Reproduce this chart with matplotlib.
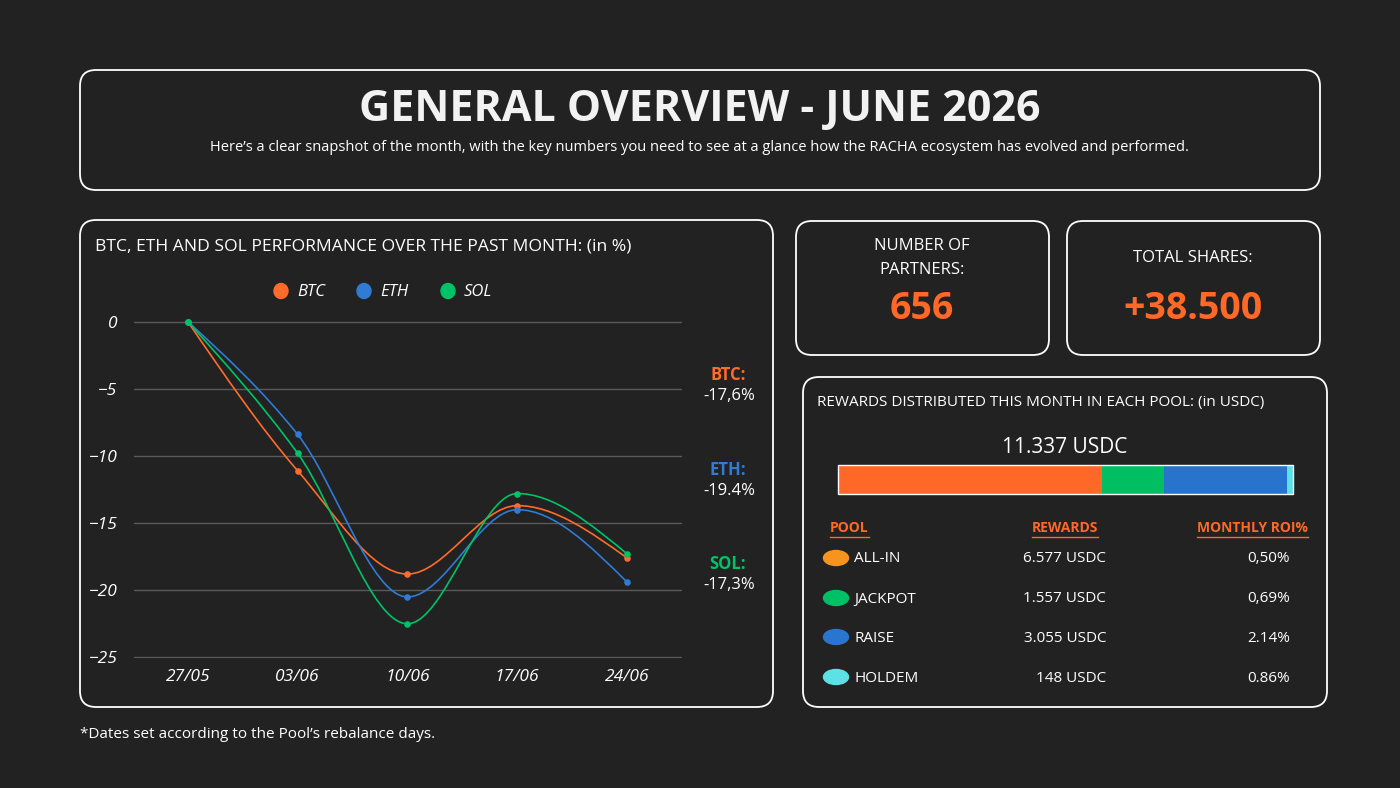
import numpy as np
import matplotlib.pyplot as plt
from matplotlib.patches import FancyBboxPatch, Ellipse, Rectangle, PathPatch
from matplotlib.path import Path

# ______ data ______
dates = ['27/05', '03/06', '10/06', '17/06', '24/06']
btc = [0, -11.1, -18.8, -13.7, -17.6]
eth = [0, -8.4, -20.5, -14.0, -19.4]
sol = [0, -9.8, -22.5, -12.8, -17.3]
y_ticks = [0, -5, -10, -15, -20, -25]

final_labels = ['-17,6%', '-19.4%', '-17,3%']

pools = ['ALL-IN', 'JACKPOT', 'RAISE', 'HOLDEM']
rewards = [6577, 1557, 3055, 148]
rewards_txt = ['6.577 USDC', '1.557 USDC', '3.055 USDC', '148 USDC']
roi_txt = ['0,50%', '0,69%', '2.14%', '0.86%']
total_txt = '11.337 USDC'
partners = '656'
shares = '+38.500'

# ______ style ______
BG = '#222222'
ORANGE = '#FF6826'
C_BTC = '#FF6B2B'
C_ETH = '#2F7BD6'
C_SOL = '#00C266'
dot_cols = ['#F7941D', '#00C065', '#2A75D0', '#5CE1E6']
bar_cols = ['#FF6826', '#00BF63', '#2874CC', '#5CE1E6']
plt.rcParams['font.family'] = ['Open Sans', 'DejaVu Sans']
W, H = 1400, 788

fig = plt.figure(figsize=(14, 7.88), dpi=100, facecolor=BG)
bg = fig.add_axes([0, 0, 1, 1])
bg.set_xlim(0, W)
bg.set_ylim(H, 0)
bg.axis('off')


def box(x0, y0, x1, y1):
    bg.add_patch(FancyBboxPatch((x0, y0), x1 - x0, y1 - y0,
                                boxstyle='round,pad=0,rounding_size=16',
                                fc=BG, ec='white', lw=1.3))


box(80, 70, 1320, 190)
box(80, 220, 773, 707)
box(796, 221, 1049, 355)
box(1067, 221, 1320, 355)
box(803, 377, 1327, 707)

# header
bg.text(700, 109, 'GENERAL OVERVIEW - JUNE 2026', color='#F2F2F2', fontsize=31,
        fontweight='bold', ha='center', va='center')
bg.text(700, 147, 'Here\u2019s a clear snapshot of the month, with the key numbers you need to see at a glance '
        'how the RACHA ecosystem has evolved and performed.', color='white', fontsize=10.5,
        ha='center', va='center')

# ______ line chart ______
bg.text(95, 246, 'BTC, ETH AND SOL PERFORMANCE OVER THE PAST MONTH: (in %)', color='white',
        fontsize=12.6, ha='left', va='center')

ax = fig.add_axes([134 / W, 1 - 658 / H, (682 - 134) / W, (658 - 321) / H])
ax.set_facecolor('none')
ax.set_xlim(-0.49, 4.5)
ax.set_ylim(-25.05, 0.05)
for s in ax.spines.values():
    s.set_visible(False)
ax.set_yticks(y_ticks)
ax.set_xticks(range(len(dates)))
ax.set_xticklabels(dates)
ax.tick_params(length=0, colors='white', labelsize=12.5)
for lab in ax.get_xticklabels() + ax.get_yticklabels():
    lab.set_fontstyle('italic')
ax.tick_params(axis='y', pad=12)
ax.tick_params(axis='x', pad=8)
ax.grid(axis='y', color='#5a5a5a', lw=1)
ax.set_axisbelow(True)


def monotone_path(xs, ys):
    xs = np.asarray(xs, float)
    ys = np.asarray(ys, float)
    n = len(xs)
    h = np.diff(xs)
    s = np.diff(ys) / h
    t = np.zeros(n)
    for i in range(1, n - 1):
        p = (s[i - 1] * h[i] + s[i] * h[i - 1]) / (h[i - 1] + h[i])
        t[i] = (np.sign(s[i - 1]) + np.sign(s[i])) * min(abs(s[i - 1]), abs(s[i]), 0.5 * abs(p))
    t[0] = (3 * s[0] - t[1]) / 2
    t[-1] = (3 * s[-1] - t[-2]) / 2
    verts = [(xs[0], ys[0])]
    codes = [Path.MOVETO]
    for i in range(n - 1):
        d = h[i] / 3
        verts += [(xs[i] + d, ys[i] + t[i] * d), (xs[i + 1] - d, ys[i + 1] - t[i + 1] * d),
                  (xs[i + 1], ys[i + 1])]
        codes += [Path.CURVE4] * 3
    return Path(verts, codes)


x = np.arange(len(dates))
for vals, col in [(btc, C_BTC), (eth, C_ETH), (sol, C_SOL)]:
    ax.add_patch(PathPatch(monotone_path(x, vals), fc='none', ec=col, lw=1.2, clip_on=False))
    ax.scatter(x, vals, s=14, color=col, zorder=3, clip_on=False)

# legend
for lx, name, col in [(281, 'BTC', C_BTC), (364, 'ETH', C_ETH), (448, 'SOL', C_SOL)]:
    bg.add_patch(Ellipse((lx, 291), 14, 15, color=col))
    bg.text(lx + 16, 292, name, color='white', fontsize=12, fontstyle='italic',
            ha='left', va='center')

# end labels
for yy, name, col, val in [(375, 'BTC:', C_BTC, final_labels[0]),
                           (470, 'ETH:', C_ETH, final_labels[1]),
                           (564, 'SOL:', C_SOL, final_labels[2])]:
    bg.text(728, yy, name, color=col, fontsize=12, fontweight='bold', ha='center', va='center')
    bg.text(729, yy + 21, val, color='white', fontsize=12, ha='center', va='center')

# ______ stat cards ______
bg.text(922, 246, 'NUMBER OF', color='white', fontsize=12, ha='center', va='center')
bg.text(922, 270, 'PARTNERS:', color='white', fontsize=12, ha='center', va='center')
bg.text(922, 309, partners, color=ORANGE, fontsize=27, fontweight='bold', ha='center', va='center')
bg.text(1193, 258, 'TOTAL SHARES:', color='white', fontsize=12, ha='center', va='center')
bg.text(1193, 309, shares, color=ORANGE, fontsize=27, fontweight='bold', ha='center', va='center')

# ______ rewards ______
bg.text(817, 402, 'REWARDS DISTRIBUTED THIS MONTH IN EACH POOL: (in USDC)', color='white',
        fontsize=11, ha='left', va='center')
bg.text(1065, 447, total_txt, color='white', fontsize=15, ha='center', va='center')

bar_x0, bar_x1 = 838, 1293
scale = (bar_x1 - bar_x0) / sum(rewards)
left = bar_x0
for val, col in zip(rewards, bar_cols):
    bg.add_patch(Rectangle((left, 465), val * scale, 29, fc=col, ec='none'))
    left += val * scale
bg.add_patch(Rectangle((bar_x0, 465), bar_x1 - bar_x0, 29, fc='none', ec='white', lw=1))

fig.canvas.draw()
renderer = fig.canvas.get_renderer()
inv = bg.transData.inverted()
for hx, ha, txt in [(830, 'left', 'POOL'), (1065, 'center', 'REWARDS'), (1308, 'right', 'MONTHLY ROI%')]:
    t = bg.text(hx, 528, txt, color=ORANGE, fontsize=10, fontweight='bold', ha=ha, va='center')
    bb = t.get_window_extent(renderer)
    (ux0, _), (ux1, _) = inv.transform([(bb.x0, 0), (bb.x1, 0)])
    bg.plot([ux0, ux1], [537, 537], color=ORANGE, lw=1)

row_y = [558, 598, 637, 677]
for yy, name, col, rt, roi in zip(row_y, pools, dot_cols, rewards_txt, roi_txt):
    bg.add_patch(Ellipse((836, yy), 25, 15, color=col))
    bg.text(854, yy + 1, name, color='white', fontsize=11, ha='left', va='center')
    bg.text(1106, yy + 1, rt, color='white', fontsize=11, ha='right', va='center')
    bg.text(1290, yy + 1, roi, color='white', fontsize=11, ha='right', va='center')

bg.text(80, 734, '*Dates set according to the Pool\u2019s rebalance days.', color='white',
        fontsize=11, ha='left', va='center')

fig.savefig('out.png', dpi=100, facecolor=BG)
